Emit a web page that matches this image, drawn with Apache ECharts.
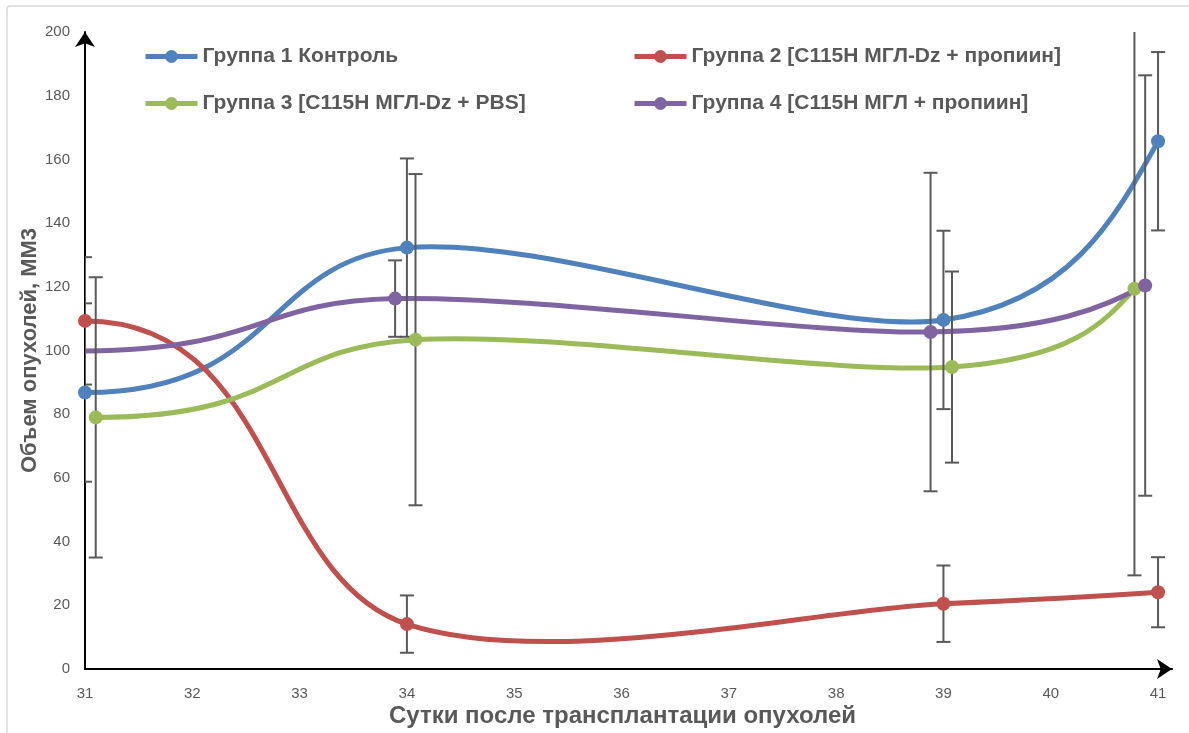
<!DOCTYPE html>
<html><head><meta charset="utf-8">
<script src="https://cdn.jsdelivr.net/npm/echarts@6/dist/echarts.min.js"></script>
<style>html,body{margin:0;padding:0;background:#fff;overflow:hidden}#c{width:1189px;height:733px}</style>
</head><body><div id="c"></div>
<script>
// Data
const groupNames = ['Группа 1 Контроль','Группа 2 [C115H МГЛ-Dz + пропиин]','Группа 3 [C115H МГЛ-Dz + PBS]','Группа 4 [C115H МГЛ + пропиин]'];
const g1X = [31, 34, 39, 41];
const g1Y = [86.8, 132.3, 109.6, 165.7];
const g1E = [28, 28, 28, 28];
const g2X = [31, 34, 39, 41];
const g2Y = [109.3, 14.1, 20.5, 24.1];
const g2E = [20, 9, 12, 11];
const g3X = [31.1, 34.08, 39.08, 40.78];
const g3Y = [79, 103.4, 94.8, 119.4];
const g3E = [44, 52, 30, 90];
const g4X = [30.89, 33.89, 38.88, 40.88];
const g4Y = [99.8, 116.3, 105.8, 120.4];
const g4E = [14, 12, 50, 66];
const colors = ['#4F81BD','#C0504D','#9BBB59','#8064A2'];
const yMin = 0, yMax = 200, yStep = 20;
const xMin = 31, xMaxLabel = 41, xStep = 1;

const groups = [[g1X,g1Y,g1E],[g2X,g2Y,g2E],[g3X,g3Y,g3E],[g4X,g4Y,g4E]];
const FONT = 'Liberation Sans';
const GREY = '#595959';

function errItem(params, api){
  const x = api.value(0), y = api.value(1), e = api.value(2);
  if (!e) return;
  const hiV = y + e, loV = Math.max(y - e, yMin);
  const top = api.coord([x, Math.min(hiV, yMax)]);
  const bot = api.coord([x, loV]);
  const st = {stroke:GREY, lineWidth:2};
  const ch = [{type:'line', shape:{x1:top[0],y1:top[1],x2:bot[0],y2:bot[1]}, style:st}];
  if (hiV <= yMax) ch.push({type:'line', shape:{x1:top[0]-7,y1:top[1],x2:top[0]+7,y2:top[1]}, style:st});
  ch.push({type:'line', shape:{x1:bot[0]-7,y1:bot[1],x2:bot[0]+7,y2:bot[1]}, style:st});
  return {type:'group', children:ch};
}

// Smoothed curve (spreadsheet-style cubic Bezier through the points, computed via the axis scales)
function curveRenderer(xs, ys, color){
  return function(params, api){
    if (params.dataIndex !== 0) return;
    const p = xs.map((x,i)=>api.coord([x, ys[i]]));
    const n = p.length;
    let d = 'M' + p[0][0] + ' ' + p[0][1];
    for (let i = 0; i < n - 1; i++){
      const a = p[i], b = p[i+1];
      let c1, c2;
      if (i === 0) c1 = [a[0] + (b[0]-a[0])*0.6, a[1]];
      else { const m = p[i-1]; c1 = [a[0] + (b[0]-m[0])/6, a[1] + (b[1]-m[1])/6]; }
      if (i === n - 2) c2 = [(c1[0]+b[0])/2, (c1[1]+b[1])/2];
      else { const q = p[i+2]; c2 = [b[0] - (q[0]-a[0])/6, b[1] - (q[1]-a[1])/6]; }
      d += ' C' + c1[0] + ' ' + c1[1] + ' ' + c2[0] + ' ' + c2[1] + ' ' + b[0] + ' ' + b[1];
    }
    return {type:'path', shape:{pathData:d}, style:{fill:'none', stroke:color, lineWidth:5, lineJoin:'round', lineCap:'round'}};
  };
}

const series = [];
groups.forEach((g,i)=>{
  series.push({
    type:'custom', renderItem: curveRenderer(g[0], g[1], colors[i]), z:2, clip:true, silent:true,
    data: g[0].map((x,k)=>[x, g[1][k]])
  });
});
groups.forEach((g,i)=>{
  series.push({
    type:'custom', renderItem: errItem, z: 3, clip: true, silent: true,
    data: g[0].map((x,k)=>[x, g[1][k], g[2][k]])
  });
});
groups.forEach((g,i)=>{
  series.push({
    name: groupNames[i], type:'line', data: g[0].map((x,k)=>[x, g[1][k]]),
    symbol:'circle', symbolSize:14, showSymbol:true, clip:true,
    lineStyle:{width:0, opacity:0, color:colors[i]}, itemStyle:{color:colors[i]},
    z: 4, emphasis:{disabled:true}
  });
});

const legendText = {fontFamily:FONT, fontWeight:'bold', fontSize:21, color:GREY, lineHeight:21};
function legendData(idx){ return idx.map(i=>({name:groupNames[i], lineStyle:{width:5, color:colors[i], opacity:1}, itemStyle:{color:colors[i]}})); }

const chart = echarts.init(document.getElementById('c'), null, {width:1189, height:733});
chart.setOption({
  animation:false,
  backgroundColor:'#fff',
  graphic:[{type:'rect', shape:{x:7,y:6,width:1200,height:740,r:3}, style:{fill:'none', stroke:'#d9d9d9', lineWidth:1.5}, z:-10}],
  legend:[
    {data:legendData([0,2]), left:143, top:46, padding:0, orient:'vertical', itemWidth:52, itemHeight:16, itemGap:26, textStyle:legendText},
    {data:legendData([1,3]), left:632, top:46, padding:0, orient:'vertical', itemWidth:52, itemHeight:16, itemGap:26, textStyle:legendText}
  ],
  grid:{left:85, width:1087, top:32, height:638, containLabel:false},
  xAxis:{
    type:'value', min:xMin, max:41.13, interval:xStep,
    name:'Сутки после трансплантации опухолей', nameLocation:'middle', nameGap:35, nameMoveOverlap:false,
    nameTextStyle:{fontFamily:FONT, fontWeight:'bold', fontSize:24, color:GREY, padding:[0,0,0,-12]},
    axisLine:{show:true, lineStyle:{color:'#000', width:2}, symbol:['none','arrow'], symbolSize:[15,15]},
    axisTick:{show:false}, splitLine:{show:false},
    axisLabel:{fontFamily:FONT, fontSize:15, color:GREY, margin:17,
      formatter:v=> (Math.abs(v-Math.round(v))<1e-6 && v<=xMaxLabel) ? String(Math.round(v)) : ''}
  },
  yAxis:{
    type:'value', min:yMin, max:yMax, interval:yStep,
    name:'Объем опухолей, ММ3', nameLocation:'middle', nameGap:44, nameMoveOverlap:false,
    nameTextStyle:{fontFamily:FONT, fontWeight:'bold', fontSize:22, color:GREY},
    axisLine:{show:true, lineStyle:{color:'#000', width:2}, symbol:['none','arrow'], symbolSize:[15,15]},
    axisTick:{show:false}, splitLine:{show:false},
    axisLabel:{fontFamily:FONT, fontSize:15, color:GREY, margin:15}
  },
  series
});
</script></body></html>
